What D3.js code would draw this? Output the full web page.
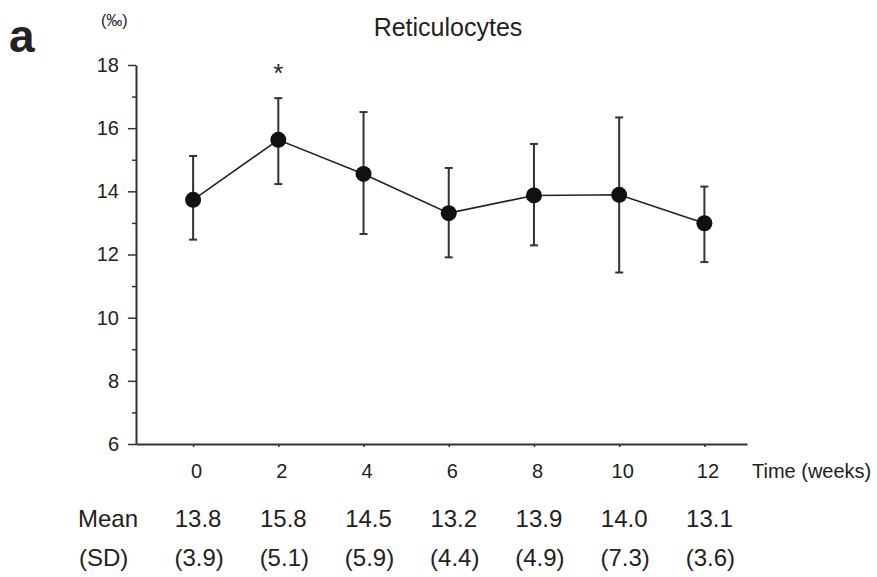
<!DOCTYPE html>
<html>
<head>
<meta charset="utf-8">
<script src="https://cdn.jsdelivr.net/npm/d3@7"></script>
<style>
  body { margin: 0; background: #fff; }
  text { font-family: "Liberation Sans", Arial, Helvetica, sans-serif; fill: #222; }
</style>
</head>
<body>
<svg id="chart" width="877" height="577"></svg>
<script>
// values
const weeks = [0, 2, 4, 6, 8, 10, 12];
const plotted = [13.73, 15.63, 14.55, 13.31, 13.87, 13.89, 12.99];
const errLow = [12.47, 14.23, 12.65, 11.91, 12.29, 11.43, 11.76];
const errHigh = [15.12, 16.95, 16.51, 14.74, 15.50, 16.34, 14.15];
const meanLabels = ["13.8", "15.8", "14.5", "13.2", "13.9", "14.0", "13.1"];
const sdLabels = ["(3.9)", "(5.1)", "(5.9)", "(4.4)", "(4.9)", "(7.3)", "(3.6)"];
const significant = [false, true, false, false, false, false, false];
const yMajor = [6, 8, 10, 12, 14, 16, 18];
const yMinor = [7, 9, 11, 13, 15, 17];

const data = weeks.map((w, i) => ({
    week: w, value: plotted[i], lo: errLow[i], hi: errHigh[i],
    mean: meanLabels[i], sd: sdLabels[i], star: significant[i]
}));

const svg = d3.select("#chart");

const x = d3.scaleLinear()
    .domain([-1.34, 13])
    .range([136, 747]);

const y = d3.scaleLinear()
    .domain([6, 18])
    .range([444, 65]);

// y axis: major ticks with labels, minor ticks without
const yAxis = svg.append("g")
    .attr("transform", "translate(136,0)")
    .call(d3.axisLeft(y)
        .tickValues(yMajor)
        .tickSize(8)
        .tickSizeOuter(0)
        .tickPadding(9));
yAxis.select(".domain").attr("stroke", "#333").attr("stroke-width", 2);
yAxis.selectAll(".tick line").attr("stroke", "#333").attr("stroke-width", 1.5);
yAxis.selectAll(".tick text")
    .attr("font-size", 20)
    .attr("fill", "#222")
    .style("font-family", "'Liberation Sans', Arial, sans-serif");

const yMinorAxis = svg.append("g")
    .attr("transform", "translate(136,0)")
    .call(d3.axisLeft(y)
        .tickValues(yMinor)
        .tickSize(4)
        .tickSizeOuter(0)
        .tickFormat(""));
yMinorAxis.select(".domain").remove();
yMinorAxis.selectAll(".tick line").attr("stroke", "#333").attr("stroke-width", 1.5);

// x axis
const xAxis = svg.append("g")
    .attr("transform", `translate(0,${y(6)})`)
    .call(d3.axisBottom(x)
        .tickValues(weeks)
        .tickSize(3)
        .tickSizeOuter(0)
        .tickPadding(17));
xAxis.select(".domain").attr("stroke", "#333").attr("stroke-width", 2);
xAxis.selectAll(".tick line").attr("stroke", "#333").attr("stroke-width", 1.5);
xAxis.selectAll(".tick text")
    .attr("font-size", 20)
    .attr("dx", 3)
    .attr("fill", "#222")
    .style("font-family", "'Liberation Sans', Arial, sans-serif");

svg.append("text")
    .attr("x", 752)
    .attr("y", 478)
    .attr("font-size", 20)
    .text("Time (weeks)");

// error bars
const bars = svg.append("g")
    .attr("stroke", "#333")
    .attr("stroke-width", 2);
bars.selectAll(".err")
    .data(data)
    .join("line")
    .attr("x1", d => x(d.week))
    .attr("x2", d => x(d.week))
    .attr("y1", d => y(d.lo))
    .attr("y2", d => y(d.hi));
bars.selectAll(".capHi")
    .data(data)
    .join("line")
    .attr("class", "capHi")
    .attr("x1", d => x(d.week) - 4)
    .attr("x2", d => x(d.week) + 4)
    .attr("y1", d => y(d.hi))
    .attr("y2", d => y(d.hi));
bars.selectAll(".capLo")
    .data(data)
    .join("line")
    .attr("class", "capLo")
    .attr("x1", d => x(d.week) - 4)
    .attr("x2", d => x(d.week) + 4)
    .attr("y1", d => y(d.lo))
    .attr("y2", d => y(d.lo));

// connecting line
const lineGenerator = d3.line()
    .x(d => x(d.week))
    .y(d => y(d.value));

svg.append("path")
    .datum(data)
    .attr("fill", "none")
    .attr("stroke", "#222")
    .attr("stroke-width", 1.6)
    .attr("d", lineGenerator);

svg.selectAll(".pt")
    .data(data)
    .join("circle")
    .attr("cx", d => x(d.week))
    .attr("cy", d => y(d.value))
    .attr("r", 8)
    .attr("fill", "#111");

// significance star
svg.selectAll(".star")
    .data(data.filter(d => d.star))
    .join("text")
    .attr("x", d => x(d.week))
    .attr("y", 82)
    .attr("text-anchor", "middle")
    .attr("font-size", 26)
    .text("*");

// titles
svg.append("text")
    .attr("x", 448)
    .attr("y", 36)
    .attr("text-anchor", "middle")
    .attr("font-size", 25)
    .text("Reticulocytes");

svg.append("text")
    .attr("x", 9)
    .attr("y", 52)
    .attr("font-size", 46)
    .attr("font-weight", "bold")
    .text("a");

svg.append("text")
    .attr("x", 101)
    .attr("y", 26)
    .attr("font-size", 16)
    .text("(‰)");

// mean / SD table
svg.append("text")
    .attr("x", 78)
    .attr("y", 527)
    .attr("font-size", 24)
    .text("Mean");
svg.append("text")
    .attr("x", 79)
    .attr("y", 566)
    .attr("font-size", 24)
    .text("(SD)");

svg.selectAll(".meanLbl")
    .data(data)
    .join("text")
    .attr("x", d => x(d.week) + 5)
    .attr("y", 527)
    .attr("text-anchor", "middle")
    .attr("font-size", 24)
    .text(d => d.mean);

svg.selectAll(".sdLbl")
    .data(data)
    .join("text")
    .attr("x", d => x(d.week) + 6)
    .attr("y", 566)
    .attr("text-anchor", "middle")
    .attr("font-size", 24)
    .text(d => d.sd);
</script>
</body>
</html>
